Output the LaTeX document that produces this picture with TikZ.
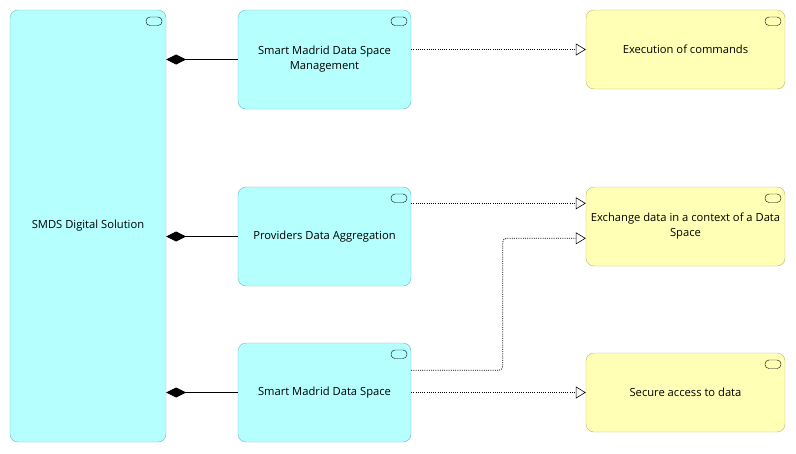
\documentclass[tikz,border=0pt]{standalone}
\usepackage{fontspec}
\setmainfont{Open Sans}
\usepackage{tikz}
\usetikzlibrary{arrows.meta,calc}
\definecolor{AppFill}{HTML}{B5FFFF}
\definecolor{AppLine}{HTML}{6FB9BC}
\definecolor{SrvFill}{HTML}{FFFFB5}
\definecolor{SrvLine}{HTML}{B6B66E}
\begin{document}
\begin{tikzpicture}[
  x=1pt,y=-1pt,
  font=\fontsize{11.2}{15}\selectfont,
  comp/.style={draw=AppLine,fill=AppFill,rounded corners=8pt,inner sep=0pt,align=center},
  serv/.style={draw=SrvLine,fill=SrvFill,rounded corners=8pt,inner sep=0pt,align=center,minimum width=199pt,minimum height=79pt},
  icon/.style={draw=black,rounded corners=4pt,minimum width=16pt,minimum height=8.5pt,inner sep=0pt,anchor=north east},
  part/.style={draw=black,line width=0.8pt,{Diamond[length=20pt,width=10pt]}-},
  real/.style={draw=black,line width=0.8pt,dash pattern=on 1pt off 1.2pt,-{Triangle[open,length=10pt,width=12pt,line width=0.6pt]}}
]
\useasboundingbox (0,0) rectangle (796,453);
% application components
\node[comp,minimum width=156pt,minimum height=432pt] (smds) at (88,226) {SMDS Digital Solution};
\node[comp,minimum width=173pt,minimum height=99pt] (mgmt) at (324.5,59.5) {Smart Madrid Data Space\\Management};
\node[comp,minimum width=173pt,minimum height=99pt] (aggr) at (324.5,236.5) {Providers Data Aggregation};
\node[comp,minimum width=173pt,minimum height=99pt] (space) at (324.5,392.5) {Smart Madrid Data Space};
% application services
\node[serv] (exec) at (685.5,49.5) {Execution of commands};
\node[serv] (xchg) at (685.5,226.5) {Exchange data in a context of a Data\\Space};
\node[serv] (secure) at (685.5,392.5) {Secure access to data};
% icons
\foreach \n in {smds,mgmt,aggr,space,exec,xchg,secure}
  \node[icon] (\n-icon) at ($(\n.north east)+(-4,7)$) {};
% composition
\draw[part] (mgmt.west -| smds.east) -- (mgmt.west);
\draw[part] (aggr.west -| smds.east) -- (aggr.west);
\draw[part] (space.west -| smds.east) -- (space.west);
% realization
\coordinate (xchg-a) at ($(xchg.north west)+(0,16.5)$);
\coordinate (xchg-b) at ($(xchg.north west)+(0,51.5)$);
\coordinate (space-a) at ($(space.north east)+(0,27.5)$);
\draw[real] (exec.west -| mgmt.east) -- (exec.west);
\draw[real] (xchg-a -| aggr.east) -- (xchg-a);
\draw[real,rounded corners=4pt] (space-a) -- ++(91.5,0) |- (xchg-b);
\draw[real] (space.east) -- (secure.west);
\end{tikzpicture}
\end{document}
